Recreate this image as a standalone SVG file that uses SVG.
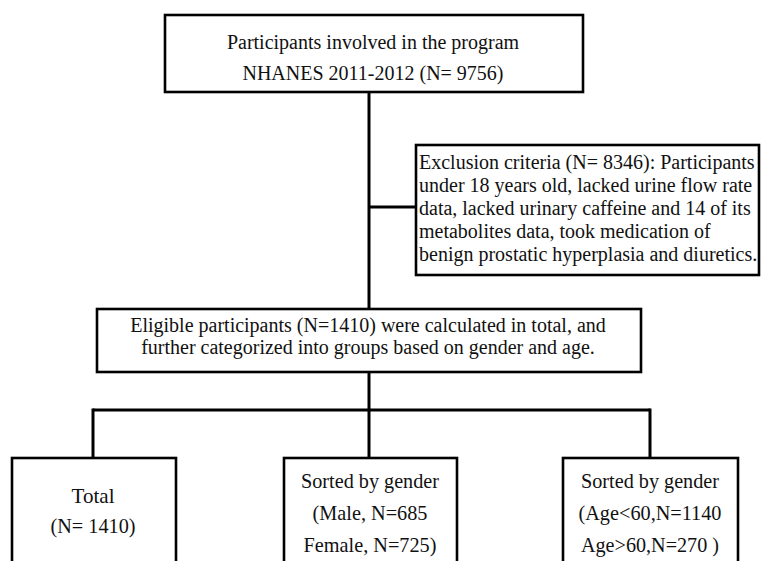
<svg xmlns="http://www.w3.org/2000/svg" width="761" height="561" viewBox="0 0 761 561">
<style>
.box{fill:#fff;stroke:#000;stroke-width:2.6}
.ln{fill:none;stroke:#000;stroke-width:3}
text{font-family:"Liberation Serif","Times New Roman","DejaVu Serif",serif;font-size:20px;fill:#111}
.c{text-anchor:middle}
.b{font-size:22px}
</style>
<rect width="761" height="561" fill="#fff"/>
<g id="connectors">
<path class="ln" d="M369,92 V309"/>
<path class="ln" d="M369,207 H416"/>
<path class="ln" d="M369,372 V410"/>
<path class="ln" d="M93,410 H650"/>
<path class="ln" d="M93,408.5 V458"/>
<path class="ln" d="M369,410 V458"/>
<path class="ln" d="M650,408.5 V458"/>
</g>
<g id="top">
<rect class="box" x="165" y="15" width="418" height="77"/>
<text class="c" x="373" y="49">Participants involved in the program</text>
<text class="c" x="373" y="80">NHANES 2011-2012 (N= 9756)</text>
</g>
<g id="exclusion">
<rect class="box" x="416" y="145" width="343" height="130"/>
<text x="419" y="169">Exclusion criteria (N= 8346): Participants</text>
<text x="419" y="192">under 18 years old, lacked urine flow rate</text>
<text x="419" y="215">data, lacked urinary caffeine and 14 of its</text>
<text x="419" y="238">metabolites data, took medication of</text>
<text x="419" y="261">benign prostatic hyperplasia and diuretics.</text>
</g>
<g id="eligible">
<rect class="box" x="97" y="309" width="544" height="63"/>
<text class="c" x="368" y="332">Eligible participants (N=1410) were calculated in total, and</text>
<text class="c" x="368" y="354">further categorized into groups based on gender and age.</text>
</g>
<g id="total">
<rect class="box" x="12" y="458" width="164" height="120"/>
<text class="c b" x="93" y="503" textLength="43" lengthAdjust="spacingAndGlyphs">Total</text>
<text class="c b" x="93" y="533" textLength="85" lengthAdjust="spacingAndGlyphs">(N= 1410)</text>
</g>
<g id="gender">
<rect class="box" x="284" y="458" width="173" height="120"/>
<text class="c b" x="370" y="488" textLength="138" lengthAdjust="spacingAndGlyphs">Sorted by gender</text>
<text class="c b" x="370" y="520" textLength="115" lengthAdjust="spacingAndGlyphs">(Male, N=685</text>
<text class="c b" x="370" y="552" textLength="133" lengthAdjust="spacingAndGlyphs">Female, N=725)</text>
</g>
<g id="age">
<rect class="box" x="563" y="458" width="175" height="120"/>
<text class="c b" x="650" y="488" textLength="138" lengthAdjust="spacingAndGlyphs">Sorted by gender</text>
<text class="c b" x="650" y="520" textLength="143" lengthAdjust="spacingAndGlyphs">(Age&lt;60,N=1140</text>
<text class="c b" x="650" y="552" textLength="138" lengthAdjust="spacingAndGlyphs">Age&gt;60,N=270 )</text>
</g>
</svg>
